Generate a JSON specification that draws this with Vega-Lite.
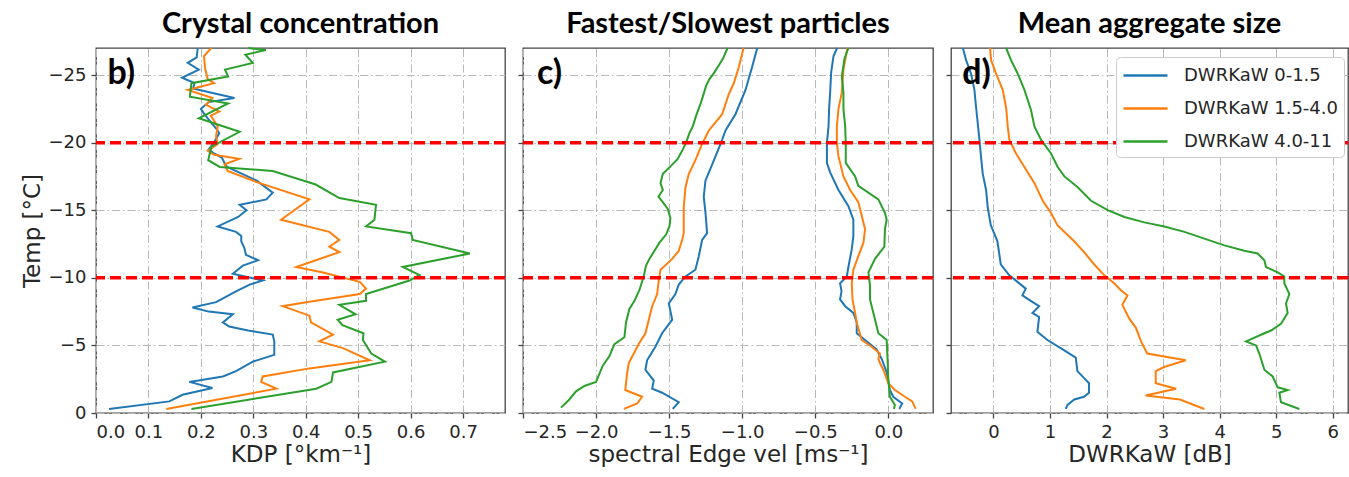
{
  "$schema": "https://vega.github.io/schema/vega-lite/v6.json",
  "padding": {"left": 20, "top": 9, "right": 0, "bottom": 0},
  "bounds": "flush",
  "spacing": 18,
  "config": {
    "font": "DejaVu Sans",
    "view": {"stroke": "#444444", "strokeWidth": 1.3},
    "axis": {"labelFont": "DejaVu Sans", "labelFontSize": 18, "labelColor": "#262626", "titleFont": "DejaVu Sans", "titleFontSize": 23, "titleFontWeight": "normal", "titleColor": "#262626", "domain": false, "tickColor": "#444444", "tickSize": 5, "tickWidth": 1.3, "grid": true, "gridColor": "#b8b8b8", "gridDash": [8, 3, 1.5, 3], "gridWidth": 1},
    "axisX": {"labelPadding": 5, "titlePadding": 2},
    "axisY": {"labelPadding": 5},
    "title": {"font": "Lato", "fontSize": 29, "fontWeight": "bold", "color": "black", "anchor": "middle", "baseline": "alphabetic", "offset": 5}
  },
  "resolve": {"legend": {"color": "independent"}},
  "datasets": {
    "d": [
      {"p":"b","s":"DWRKaW 0-1.5","T":-27.0,"v":0.194},{"p":"b","s":"DWRKaW 0-1.5","T":-26.3,"v":0.192},{"p":"b","s":"DWRKaW 0-1.5","T":-25.9,"v":0.175},{"p":"b","s":"DWRKaW 0-1.5","T":-25.4,"v":0.196},{"p":"b","s":"DWRKaW 0-1.5","T":-24.8,"v":0.164},{"p":"b","s":"DWRKaW 0-1.5","T":-24.4,"v":0.188},{"p":"b","s":"DWRKaW 0-1.5","T":-24.0,"v":0.185},{"p":"b","s":"DWRKaW 0-1.5","T":-23.3,"v":0.264},{"p":"b","s":"DWRKaW 0-1.5","T":-23.0,"v":0.215},{"p":"b","s":"DWRKaW 0-1.5","T":-22.5,"v":0.2},{"p":"b","s":"DWRKaW 0-1.5","T":-22.2,"v":0.205},{"p":"b","s":"DWRKaW 0-1.5","T":-21.7,"v":0.215},{"p":"b","s":"DWRKaW 0-1.5","T":-21.0,"v":0.23},{"p":"b","s":"DWRKaW 0-1.5","T":-20.7,"v":0.235},{"p":"b","s":"DWRKaW 0-1.5","T":-20.0,"v":0.225},{"p":"b","s":"DWRKaW 0-1.5","T":-19.5,"v":0.215},{"p":"b","s":"DWRKaW 0-1.5","T":-19.2,"v":0.225},{"p":"b","s":"DWRKaW 0-1.5","T":-18.9,"v":0.24},{"p":"b","s":"DWRKaW 0-1.5","T":-18.5,"v":0.245},{"p":"b","s":"DWRKaW 0-1.5","T":-18.2,"v":0.25},{"p":"b","s":"DWRKaW 0-1.5","T":-17.2,"v":0.306},{"p":"b","s":"DWRKaW 0-1.5","T":-16.3,"v":0.337},{"p":"b","s":"DWRKaW 0-1.5","T":-15.8,"v":0.325},{"p":"b","s":"DWRKaW 0-1.5","T":-15.4,"v":0.274},{"p":"b","s":"DWRKaW 0-1.5","T":-15.0,"v":0.287},{"p":"b","s":"DWRKaW 0-1.5","T":-14.5,"v":0.271},{"p":"b","s":"DWRKaW 0-1.5","T":-13.8,"v":0.232},{"p":"b","s":"DWRKaW 0-1.5","T":-13.4,"v":0.267},{"p":"b","s":"DWRKaW 0-1.5","T":-13.1,"v":0.277},{"p":"b","s":"DWRKaW 0-1.5","T":-12.7,"v":0.277},{"p":"b","s":"DWRKaW 0-1.5","T":-12.2,"v":0.283},{"p":"b","s":"DWRKaW 0-1.5","T":-11.7,"v":0.286},{"p":"b","s":"DWRKaW 0-1.5","T":-11.3,"v":0.309},{"p":"b","s":"DWRKaW 0-1.5","T":-10.9,"v":0.28},{"p":"b","s":"DWRKaW 0-1.5","T":-10.3,"v":0.261},{"p":"b","s":"DWRKaW 0-1.5","T":-9.8,"v":0.318},{"p":"b","s":"DWRKaW 0-1.5","T":-9.5,"v":0.293},{"p":"b","s":"DWRKaW 0-1.5","T":-9.0,"v":0.267},{"p":"b","s":"DWRKaW 0-1.5","T":-8.2,"v":0.229},{"p":"b","s":"DWRKaW 0-1.5","T":-7.8,"v":0.184},{"p":"b","s":"DWRKaW 0-1.5","T":-7.5,"v":0.215},{"p":"b","s":"DWRKaW 0-1.5","T":-7.3,"v":0.261},{"p":"b","s":"DWRKaW 0-1.5","T":-6.7,"v":0.242},{"p":"b","s":"DWRKaW 0-1.5","T":-6.4,"v":0.254},{"p":"b","s":"DWRKaW 0-1.5","T":-6.1,"v":0.29},{"p":"b","s":"DWRKaW 0-1.5","T":-5.8,"v":0.337},{"p":"b","s":"DWRKaW 0-1.5","T":-5.3,"v":0.34},{"p":"b","s":"DWRKaW 0-1.5","T":-4.3,"v":0.34},{"p":"b","s":"DWRKaW 0-1.5","T":-3.8,"v":0.299},{"p":"b","s":"DWRKaW 0-1.5","T":-3.1,"v":0.267},{"p":"b","s":"DWRKaW 0-1.5","T":-2.7,"v":0.242},{"p":"b","s":"DWRKaW 0-1.5","T":-2.3,"v":0.178},{"p":"b","s":"DWRKaW 0-1.5","T":-1.85,"v":0.222},{"p":"b","s":"DWRKaW 0-1.5","T":-1.35,"v":0.165},{"p":"b","s":"DWRKaW 0-1.5","T":-0.86,"v":0.14},{"p":"b","s":"DWRKaW 0-1.5","T":-0.3,"v":0.025},
      {"p":"b","s":"DWRKaW 1.5-4.0","T":-27.0,"v":0.22},{"p":"b","s":"DWRKaW 1.5-4.0","T":-26.4,"v":0.206},{"p":"b","s":"DWRKaW 1.5-4.0","T":-25.5,"v":0.208},{"p":"b","s":"DWRKaW 1.5-4.0","T":-24.7,"v":0.213},{"p":"b","s":"DWRKaW 1.5-4.0","T":-24.4,"v":0.225},{"p":"b","s":"DWRKaW 1.5-4.0","T":-23.9,"v":0.175},{"p":"b","s":"DWRKaW 1.5-4.0","T":-23.3,"v":0.222},{"p":"b","s":"DWRKaW 1.5-4.0","T":-22.8,"v":0.21},{"p":"b","s":"DWRKaW 1.5-4.0","T":-22.3,"v":0.235},{"p":"b","s":"DWRKaW 1.5-4.0","T":-22.0,"v":0.219},{"p":"b","s":"DWRKaW 1.5-4.0","T":-21.2,"v":0.232},{"p":"b","s":"DWRKaW 1.5-4.0","T":-20.5,"v":0.229},{"p":"b","s":"DWRKaW 1.5-4.0","T":-19.9,"v":0.232},{"p":"b","s":"DWRKaW 1.5-4.0","T":-19.4,"v":0.213},{"p":"b","s":"DWRKaW 1.5-4.0","T":-19.1,"v":0.225},{"p":"b","s":"DWRKaW 1.5-4.0","T":-18.8,"v":0.273},{"p":"b","s":"DWRKaW 1.5-4.0","T":-18.4,"v":0.245},{"p":"b","s":"DWRKaW 1.5-4.0","T":-17.9,"v":0.251},{"p":"b","s":"DWRKaW 1.5-4.0","T":-17.1,"v":0.305},{"p":"b","s":"DWRKaW 1.5-4.0","T":-15.8,"v":0.407},{"p":"b","s":"DWRKaW 1.5-4.0","T":-14.3,"v":0.353},{"p":"b","s":"DWRKaW 1.5-4.0","T":-13.4,"v":0.445},{"p":"b","s":"DWRKaW 1.5-4.0","T":-12.8,"v":0.464},{"p":"b","s":"DWRKaW 1.5-4.0","T":-12.3,"v":0.445},{"p":"b","s":"DWRKaW 1.5-4.0","T":-11.9,"v":0.464},{"p":"b","s":"DWRKaW 1.5-4.0","T":-10.8,"v":0.382},{"p":"b","s":"DWRKaW 1.5-4.0","T":-10.4,"v":0.433},{"p":"b","s":"DWRKaW 1.5-4.0","T":-9.7,"v":0.503},{"p":"b","s":"DWRKaW 1.5-4.0","T":-9.2,"v":0.515},{"p":"b","s":"DWRKaW 1.5-4.0","T":-8.8,"v":0.503},{"p":"b","s":"DWRKaW 1.5-4.0","T":-8.2,"v":0.401},{"p":"b","s":"DWRKaW 1.5-4.0","T":-7.9,"v":0.356},{"p":"b","s":"DWRKaW 1.5-4.0","T":-7.2,"v":0.407},{"p":"b","s":"DWRKaW 1.5-4.0","T":-6.7,"v":0.41},{"p":"b","s":"DWRKaW 1.5-4.0","T":-5.8,"v":0.452},{"p":"b","s":"DWRKaW 1.5-4.0","T":-5.3,"v":0.426},{"p":"b","s":"DWRKaW 1.5-4.0","T":-4.8,"v":0.471},{"p":"b","s":"DWRKaW 1.5-4.0","T":-3.9,"v":0.522},{"p":"b","s":"DWRKaW 1.5-4.0","T":-3.3,"v":0.407},{"p":"b","s":"DWRKaW 1.5-4.0","T":-2.7,"v":0.318},{"p":"b","s":"DWRKaW 1.5-4.0","T":-2.3,"v":0.315},{"p":"b","s":"DWRKaW 1.5-4.0","T":-1.8,"v":0.344},{"p":"b","s":"DWRKaW 1.5-4.0","T":-0.3,"v":0.134},
      {"p":"b","s":"DWRKaW 4.0-11","T":-27.0,"v":0.29},{"p":"b","s":"DWRKaW 4.0-11","T":-26.85,"v":0.324},{"p":"b","s":"DWRKaW 4.0-11","T":-26.5,"v":0.285},{"p":"b","s":"DWRKaW 4.0-11","T":-25.9,"v":0.299},{"p":"b","s":"DWRKaW 4.0-11","T":-25.4,"v":0.246},{"p":"b","s":"DWRKaW 4.0-11","T":-24.9,"v":0.252},{"p":"b","s":"DWRKaW 4.0-11","T":-24.4,"v":0.182},{"p":"b","s":"DWRKaW 4.0-11","T":-23.4,"v":0.179},{"p":"b","s":"DWRKaW 4.0-11","T":-22.9,"v":0.252},{"p":"b","s":"DWRKaW 4.0-11","T":-21.8,"v":0.196},{"p":"b","s":"DWRKaW 4.0-11","T":-20.8,"v":0.274},{"p":"b","s":"DWRKaW 4.0-11","T":-19.7,"v":0.22},{"p":"b","s":"DWRKaW 4.0-11","T":-18.7,"v":0.214},{"p":"b","s":"DWRKaW 4.0-11","T":-18.2,"v":0.236},{"p":"b","s":"DWRKaW 4.0-11","T":-17.9,"v":0.337},{"p":"b","s":"DWRKaW 4.0-11","T":-16.9,"v":0.419},{"p":"b","s":"DWRKaW 4.0-11","T":-15.9,"v":0.464},{"p":"b","s":"DWRKaW 4.0-11","T":-15.4,"v":0.534},{"p":"b","s":"DWRKaW 4.0-11","T":-14.3,"v":0.531},{"p":"b","s":"DWRKaW 4.0-11","T":-13.8,"v":0.515},{"p":"b","s":"DWRKaW 4.0-11","T":-13.3,"v":0.601},{"p":"b","s":"DWRKaW 4.0-11","T":-12.8,"v":0.604},{"p":"b","s":"DWRKaW 4.0-11","T":-11.8,"v":0.713},{"p":"b","s":"DWRKaW 4.0-11","T":-10.8,"v":0.585},{"p":"b","s":"DWRKaW 4.0-11","T":-10.2,"v":0.617},{"p":"b","s":"DWRKaW 4.0-11","T":-9.8,"v":0.598},{"p":"b","s":"DWRKaW 4.0-11","T":-8.8,"v":0.515},{"p":"b","s":"DWRKaW 4.0-11","T":-8.3,"v":0.515},{"p":"b","s":"DWRKaW 4.0-11","T":-8.0,"v":0.464},{"p":"b","s":"DWRKaW 4.0-11","T":-7.3,"v":0.495},{"p":"b","s":"DWRKaW 4.0-11","T":-6.9,"v":0.461},{"p":"b","s":"DWRKaW 4.0-11","T":-6.5,"v":0.47},{"p":"b","s":"DWRKaW 4.0-11","T":-5.9,"v":0.51},{"p":"b","s":"DWRKaW 4.0-11","T":-5.4,"v":0.509},{"p":"b","s":"DWRKaW 4.0-11","T":-4.4,"v":0.525},{"p":"b","s":"DWRKaW 4.0-11","T":-3.8,"v":0.551},{"p":"b","s":"DWRKaW 4.0-11","T":-3.0,"v":0.452},{"p":"b","s":"DWRKaW 4.0-11","T":-2.3,"v":0.449},{"p":"b","s":"DWRKaW 4.0-11","T":-1.8,"v":0.42},{"p":"b","s":"DWRKaW 4.0-11","T":-0.3,"v":0.182},

      {"p":"c","e":"fast","s":"DWRKaW 0-1.5","T":-27.0,"v":-0.897},{"p":"c","e":"fast","s":"DWRKaW 0-1.5","T":-25.6,"v":-0.932},{"p":"c","e":"fast","s":"DWRKaW 0-1.5","T":-23.9,"v":-0.977},{"p":"c","e":"fast","s":"DWRKaW 0-1.5","T":-22.1,"v":-1.046},{"p":"c","e":"fast","s":"DWRKaW 0-1.5","T":-20.9,"v":-1.114},{"p":"c","e":"fast","s":"DWRKaW 0-1.5","T":-19.9,"v":-1.148},{"p":"c","e":"fast","s":"DWRKaW 0-1.5","T":-18.4,"v":-1.205},{"p":"c","e":"fast","s":"DWRKaW 0-1.5","T":-17.2,"v":-1.251},{"p":"c","e":"fast","s":"DWRKaW 0-1.5","T":-16.0,"v":-1.263},{"p":"c","e":"fast","s":"DWRKaW 0-1.5","T":-14.8,"v":-1.251},{"p":"c","e":"fast","s":"DWRKaW 0-1.5","T":-13.3,"v":-1.24},{"p":"c","e":"fast","s":"DWRKaW 0-1.5","T":-12.8,"v":-1.274},{"p":"c","e":"fast","s":"DWRKaW 0-1.5","T":-11.6,"v":-1.297},{"p":"c","e":"fast","s":"DWRKaW 0-1.5","T":-10.6,"v":-1.32},{"p":"c","e":"fast","s":"DWRKaW 0-1.5","T":-10.1,"v":-1.388},{"p":"c","e":"fast","s":"DWRKaW 0-1.5","T":-9.5,"v":-1.434},{"p":"c","e":"fast","s":"DWRKaW 0-1.5","T":-8.8,"v":-1.457},{"p":"c","e":"fast","s":"DWRKaW 0-1.5","T":-8.1,"v":-1.502},{"p":"c","e":"fast","s":"DWRKaW 0-1.5","T":-6.9,"v":-1.479},{"p":"c","e":"fast","s":"DWRKaW 0-1.5","T":-5.9,"v":-1.548},{"p":"c","e":"fast","s":"DWRKaW 0-1.5","T":-4.9,"v":-1.594},{"p":"c","e":"fast","s":"DWRKaW 0-1.5","T":-3.9,"v":-1.651},{"p":"c","e":"fast","s":"DWRKaW 0-1.5","T":-3.2,"v":-1.662},{"p":"c","e":"fast","s":"DWRKaW 0-1.5","T":-2.4,"v":-1.605},{"p":"c","e":"fast","s":"DWRKaW 0-1.5","T":-1.8,"v":-1.616},{"p":"c","e":"fast","s":"DWRKaW 0-1.5","T":-1.5,"v":-1.548},{"p":"c","e":"fast","s":"DWRKaW 0-1.5","T":-0.8,"v":-1.434},{"p":"c","e":"fast","s":"DWRKaW 0-1.5","T":-0.3,"v":-1.475},
      {"p":"c","e":"fast","s":"DWRKaW 1.5-4.0","T":-27.0,"v":-0.99},{"p":"c","e":"fast","s":"DWRKaW 1.5-4.0","T":-25.6,"v":-1.023},{"p":"c","e":"fast","s":"DWRKaW 1.5-4.0","T":-24.4,"v":-1.057},{"p":"c","e":"fast","s":"DWRKaW 1.5-4.0","T":-23.6,"v":-1.091},{"p":"c","e":"fast","s":"DWRKaW 1.5-4.0","T":-22.1,"v":-1.137},{"p":"c","e":"fast","s":"DWRKaW 1.5-4.0","T":-20.9,"v":-1.228},{"p":"c","e":"fast","s":"DWRKaW 1.5-4.0","T":-19.9,"v":-1.274},{"p":"c","e":"fast","s":"DWRKaW 1.5-4.0","T":-18.7,"v":-1.32},{"p":"c","e":"fast","s":"DWRKaW 1.5-4.0","T":-17.7,"v":-1.365},{"p":"c","e":"fast","s":"DWRKaW 1.5-4.0","T":-16.7,"v":-1.388},{"p":"c","e":"fast","s":"DWRKaW 1.5-4.0","T":-15.2,"v":-1.4},{"p":"c","e":"fast","s":"DWRKaW 1.5-4.0","T":-13.3,"v":-1.4},{"p":"c","e":"fast","s":"DWRKaW 1.5-4.0","T":-12.8,"v":-1.411},{"p":"c","e":"fast","s":"DWRKaW 1.5-4.0","T":-12.0,"v":-1.434},{"p":"c","e":"fast","s":"DWRKaW 1.5-4.0","T":-11.4,"v":-1.479},{"p":"c","e":"fast","s":"DWRKaW 1.5-4.0","T":-10.6,"v":-1.559},{"p":"c","e":"fast","s":"DWRKaW 1.5-4.0","T":-9.8,"v":-1.571},{"p":"c","e":"fast","s":"DWRKaW 1.5-4.0","T":-8.8,"v":-1.582},{"p":"c","e":"fast","s":"DWRKaW 1.5-4.0","T":-7.9,"v":-1.616},{"p":"c","e":"fast","s":"DWRKaW 1.5-4.0","T":-6.9,"v":-1.639},{"p":"c","e":"fast","s":"DWRKaW 1.5-4.0","T":-5.9,"v":-1.662},{"p":"c","e":"fast","s":"DWRKaW 1.5-4.0","T":-5.1,"v":-1.708},{"p":"c","e":"fast","s":"DWRKaW 1.5-4.0","T":-4.4,"v":-1.742},{"p":"c","e":"fast","s":"DWRKaW 1.5-4.0","T":-3.7,"v":-1.776},{"p":"c","e":"fast","s":"DWRKaW 1.5-4.0","T":-2.9,"v":-1.788},{"p":"c","e":"fast","s":"DWRKaW 1.5-4.0","T":-1.7,"v":-1.8},{"p":"c","e":"fast","s":"DWRKaW 1.5-4.0","T":-1.2,"v":-1.685},{"p":"c","e":"fast","s":"DWRKaW 1.5-4.0","T":-0.7,"v":-1.719},{"p":"c","e":"fast","s":"DWRKaW 1.5-4.0","T":-0.3,"v":-1.81},
      {"p":"c","e":"fast","s":"DWRKaW 4.0-11","T":-27.0,"v":-1.1},{"p":"c","e":"fast","s":"DWRKaW 4.0-11","T":-26.2,"v":-1.132},{"p":"c","e":"fast","s":"DWRKaW 4.0-11","T":-25.2,"v":-1.19},{"p":"c","e":"fast","s":"DWRKaW 4.0-11","T":-24.7,"v":-1.224},{"p":"c","e":"fast","s":"DWRKaW 4.0-11","T":-24.2,"v":-1.247},{"p":"c","e":"fast","s":"DWRKaW 4.0-11","T":-23.0,"v":-1.281},{"p":"c","e":"fast","s":"DWRKaW 4.0-11","T":-22.0,"v":-1.315},{"p":"c","e":"fast","s":"DWRKaW 4.0-11","T":-21.2,"v":-1.338},{"p":"c","e":"fast","s":"DWRKaW 4.0-11","T":-20.7,"v":-1.361},{"p":"c","e":"fast","s":"DWRKaW 4.0-11","T":-20.0,"v":-1.384},{"p":"c","e":"fast","s":"DWRKaW 4.0-11","T":-19.5,"v":-1.406},{"p":"c","e":"fast","s":"DWRKaW 4.0-11","T":-18.8,"v":-1.441},{"p":"c","e":"fast","s":"DWRKaW 4.0-11","T":-18.3,"v":-1.486},{"p":"c","e":"fast","s":"DWRKaW 4.0-11","T":-17.7,"v":-1.543},{"p":"c","e":"fast","s":"DWRKaW 4.0-11","T":-17.0,"v":-1.559},{"p":"c","e":"fast","s":"DWRKaW 4.0-11","T":-16.5,"v":-1.543},{"p":"c","e":"fast","s":"DWRKaW 4.0-11","T":-16.0,"v":-1.573},{"p":"c","e":"fast","s":"DWRKaW 4.0-11","T":-15.6,"v":-1.543},{"p":"c","e":"fast","s":"DWRKaW 4.0-11","T":-15.1,"v":-1.509},{"p":"c","e":"fast","s":"DWRKaW 4.0-11","T":-14.4,"v":-1.491},{"p":"c","e":"fast","s":"DWRKaW 4.0-11","T":-13.8,"v":-1.498},{"p":"c","e":"fast","s":"DWRKaW 4.0-11","T":-13.2,"v":-1.521},{"p":"c","e":"fast","s":"DWRKaW 4.0-11","T":-12.6,"v":-1.566},{"p":"c","e":"fast","s":"DWRKaW 4.0-11","T":-12.0,"v":-1.6},{"p":"c","e":"fast","s":"DWRKaW 4.0-11","T":-11.4,"v":-1.635},{"p":"c","e":"fast","s":"DWRKaW 4.0-11","T":-10.9,"v":-1.658},{"p":"c","e":"fast","s":"DWRKaW 4.0-11","T":-10.1,"v":-1.674},{"p":"c","e":"fast","s":"DWRKaW 4.0-11","T":-9.1,"v":-1.703},{"p":"c","e":"fast","s":"DWRKaW 4.0-11","T":-8.3,"v":-1.737},{"p":"c","e":"fast","s":"DWRKaW 4.0-11","T":-7.7,"v":-1.772},{"p":"c","e":"fast","s":"DWRKaW 4.0-11","T":-6.7,"v":-1.795},{"p":"c","e":"fast","s":"DWRKaW 4.0-11","T":-5.6,"v":-1.806},{"p":"c","e":"fast","s":"DWRKaW 4.0-11","T":-5.1,"v":-1.874},{"p":"c","e":"fast","s":"DWRKaW 4.0-11","T":-4.2,"v":-1.909},{"p":"c","e":"fast","s":"DWRKaW 4.0-11","T":-3.5,"v":-1.954},{"p":"c","e":"fast","s":"DWRKaW 4.0-11","T":-2.3,"v":-2.0},{"p":"c","e":"fast","s":"DWRKaW 4.0-11","T":-2.0,"v":-2.08},{"p":"c","e":"fast","s":"DWRKaW 4.0-11","T":-1.6,"v":-2.137},{"p":"c","e":"fast","s":"DWRKaW 4.0-11","T":-1.0,"v":-2.183},{"p":"c","e":"fast","s":"DWRKaW 4.0-11","T":-0.4,"v":-2.24},
      {"p":"c","e":"slow","s":"DWRKaW 0-1.5","T":-27.0,"v":-0.35},{"p":"c","e":"slow","s":"DWRKaW 0-1.5","T":-26.4,"v":-0.375},{"p":"c","e":"slow","s":"DWRKaW 0-1.5","T":-25.2,"v":-0.391},{"p":"c","e":"slow","s":"DWRKaW 0-1.5","T":-23.7,"v":-0.398},{"p":"c","e":"slow","s":"DWRKaW 0-1.5","T":-22.5,"v":-0.405},{"p":"c","e":"slow","s":"DWRKaW 0-1.5","T":-21.2,"v":-0.409},{"p":"c","e":"slow","s":"DWRKaW 0-1.5","T":-20.0,"v":-0.42},{"p":"c","e":"slow","s":"DWRKaW 0-1.5","T":-18.5,"v":-0.42},{"p":"c","e":"slow","s":"DWRKaW 0-1.5","T":-17.8,"v":-0.398},{"p":"c","e":"slow","s":"DWRKaW 0-1.5","T":-16.5,"v":-0.341},{"p":"c","e":"slow","s":"DWRKaW 0-1.5","T":-15.3,"v":-0.273},{"p":"c","e":"slow","s":"DWRKaW 0-1.5","T":-14.3,"v":-0.239},{"p":"c","e":"slow","s":"DWRKaW 0-1.5","T":-13.1,"v":-0.239},{"p":"c","e":"slow","s":"DWRKaW 0-1.5","T":-12.1,"v":-0.25},{"p":"c","e":"slow","s":"DWRKaW 0-1.5","T":-11.1,"v":-0.268},{"p":"c","e":"slow","s":"DWRKaW 0-1.5","T":-10.1,"v":-0.284},{"p":"c","e":"slow","s":"DWRKaW 0-1.5","T":-9.6,"v":-0.33},{"p":"c","e":"slow","s":"DWRKaW 0-1.5","T":-9.0,"v":-0.32},{"p":"c","e":"slow","s":"DWRKaW 0-1.5","T":-8.4,"v":-0.33},{"p":"c","e":"slow","s":"DWRKaW 0-1.5","T":-7.9,"v":-0.295},{"p":"c","e":"slow","s":"DWRKaW 0-1.5","T":-7.4,"v":-0.239},{"p":"c","e":"slow","s":"DWRKaW 0-1.5","T":-6.7,"v":-0.216},{"p":"c","e":"slow","s":"DWRKaW 0-1.5","T":-5.9,"v":-0.216},{"p":"c","e":"slow","s":"DWRKaW 0-1.5","T":-5.2,"v":-0.136},{"p":"c","e":"slow","s":"DWRKaW 0-1.5","T":-4.7,"v":-0.08},{"p":"c","e":"slow","s":"DWRKaW 0-1.5","T":-4.0,"v":-0.045},{"p":"c","e":"slow","s":"DWRKaW 0-1.5","T":-3.0,"v":-0.011},{"p":"c","e":"slow","s":"DWRKaW 0-1.5","T":-1.7,"v":0.011},{"p":"c","e":"slow","s":"DWRKaW 0-1.5","T":-1.2,"v":0.034},{"p":"c","e":"slow","s":"DWRKaW 0-1.5","T":-0.7,"v":0.095},{"p":"c","e":"slow","s":"DWRKaW 0-1.5","T":-0.3,"v":0.075},
      {"p":"c","e":"slow","s":"DWRKaW 1.5-4.0","T":-27.0,"v":-0.28},{"p":"c","e":"slow","s":"DWRKaW 1.5-4.0","T":-25.4,"v":-0.307},{"p":"c","e":"slow","s":"DWRKaW 1.5-4.0","T":-23.7,"v":-0.318},{"p":"c","e":"slow","s":"DWRKaW 1.5-4.0","T":-22.5,"v":-0.341},{"p":"c","e":"slow","s":"DWRKaW 1.5-4.0","T":-21.2,"v":-0.352},{"p":"c","e":"slow","s":"DWRKaW 1.5-4.0","T":-20.0,"v":-0.352},{"p":"c","e":"slow","s":"DWRKaW 1.5-4.0","T":-19.0,"v":-0.341},{"p":"c","e":"slow","s":"DWRKaW 1.5-4.0","T":-17.5,"v":-0.307},{"p":"c","e":"slow","s":"DWRKaW 1.5-4.0","T":-16.5,"v":-0.261},{"p":"c","e":"slow","s":"DWRKaW 1.5-4.0","T":-15.6,"v":-0.205},{"p":"c","e":"slow","s":"DWRKaW 1.5-4.0","T":-13.6,"v":-0.159},{"p":"c","e":"slow","s":"DWRKaW 1.5-4.0","T":-12.6,"v":-0.17},{"p":"c","e":"slow","s":"DWRKaW 1.5-4.0","T":-11.6,"v":-0.205},{"p":"c","e":"slow","s":"DWRKaW 1.5-4.0","T":-10.6,"v":-0.239},{"p":"c","e":"slow","s":"DWRKaW 1.5-4.0","T":-9.6,"v":-0.25},{"p":"c","e":"slow","s":"DWRKaW 1.5-4.0","T":-8.4,"v":-0.245},{"p":"c","e":"slow","s":"DWRKaW 1.5-4.0","T":-7.4,"v":-0.227},{"p":"c","e":"slow","s":"DWRKaW 1.5-4.0","T":-6.7,"v":-0.216},{"p":"c","e":"slow","s":"DWRKaW 1.5-4.0","T":-5.4,"v":-0.182},{"p":"c","e":"slow","s":"DWRKaW 1.5-4.0","T":-4.9,"v":-0.114},{"p":"c","e":"slow","s":"DWRKaW 1.5-4.0","T":-4.4,"v":-0.057},{"p":"c","e":"slow","s":"DWRKaW 1.5-4.0","T":-4.0,"v":-0.068},{"p":"c","e":"slow","s":"DWRKaW 1.5-4.0","T":-3.7,"v":-0.057},{"p":"c","e":"slow","s":"DWRKaW 1.5-4.0","T":-3.2,"v":-0.034},{"p":"c","e":"slow","s":"DWRKaW 1.5-4.0","T":-2.2,"v":0.0},{"p":"c","e":"slow","s":"DWRKaW 1.5-4.0","T":-1.7,"v":0.045},{"p":"c","e":"slow","s":"DWRKaW 1.5-4.0","T":-1.2,"v":0.114},{"p":"c","e":"slow","s":"DWRKaW 1.5-4.0","T":-0.86,"v":0.164},{"p":"c","e":"slow","s":"DWRKaW 1.5-4.0","T":-0.3,"v":0.187},
      {"p":"c","e":"slow","s":"DWRKaW 4.0-11","T":-27.0,"v":-0.273},{"p":"c","e":"slow","s":"DWRKaW 4.0-11","T":-26.2,"v":-0.3},{"p":"c","e":"slow","s":"DWRKaW 4.0-11","T":-24.9,"v":-0.318},{"p":"c","e":"slow","s":"DWRKaW 4.0-11","T":-23.7,"v":-0.307},{"p":"c","e":"slow","s":"DWRKaW 4.0-11","T":-22.5,"v":-0.307},{"p":"c","e":"slow","s":"DWRKaW 4.0-11","T":-21.2,"v":-0.295},{"p":"c","e":"slow","s":"DWRKaW 4.0-11","T":-20.0,"v":-0.291},{"p":"c","e":"slow","s":"DWRKaW 4.0-11","T":-18.5,"v":-0.291},{"p":"c","e":"slow","s":"DWRKaW 4.0-11","T":-17.5,"v":-0.227},{"p":"c","e":"slow","s":"DWRKaW 4.0-11","T":-16.8,"v":-0.205},{"p":"c","e":"slow","s":"DWRKaW 4.0-11","T":-15.8,"v":-0.068},{"p":"c","e":"slow","s":"DWRKaW 4.0-11","T":-14.8,"v":-0.023},{"p":"c","e":"slow","s":"DWRKaW 4.0-11","T":-14.3,"v":-0.011},{"p":"c","e":"slow","s":"DWRKaW 4.0-11","T":-13.6,"v":-0.023},{"p":"c","e":"slow","s":"DWRKaW 4.0-11","T":-12.3,"v":-0.027},{"p":"c","e":"slow","s":"DWRKaW 4.0-11","T":-11.4,"v":-0.091},{"p":"c","e":"slow","s":"DWRKaW 4.0-11","T":-10.4,"v":-0.136},{"p":"c","e":"slow","s":"DWRKaW 4.0-11","T":-9.4,"v":-0.125},{"p":"c","e":"slow","s":"DWRKaW 4.0-11","T":-8.4,"v":-0.125},{"p":"c","e":"slow","s":"DWRKaW 4.0-11","T":-7.4,"v":-0.102},{"p":"c","e":"slow","s":"DWRKaW 4.0-11","T":-5.9,"v":-0.068},{"p":"c","e":"slow","s":"DWRKaW 4.0-11","T":-5.4,"v":-0.011},{"p":"c","e":"slow","s":"DWRKaW 4.0-11","T":-4.0,"v":-0.005},{"p":"c","e":"slow","s":"DWRKaW 4.0-11","T":-2.5,"v":0.0},{"p":"c","e":"slow","s":"DWRKaW 4.0-11","T":-1.2,"v":0.011},{"p":"c","e":"slow","s":"DWRKaW 4.0-11","T":-0.6,"v":0.045},{"p":"c","e":"slow","s":"DWRKaW 4.0-11","T":-0.3,"v":0.039},

      {"p":"d","s":"DWRKaW 0-1.5","T":-27.0,"v":-0.54},{"p":"d","s":"DWRKaW 0-1.5","T":-26.1,"v":-0.483},{"p":"d","s":"DWRKaW 0-1.5","T":-25.1,"v":-0.395},{"p":"d","s":"DWRKaW 0-1.5","T":-23.9,"v":-0.336},{"p":"d","s":"DWRKaW 0-1.5","T":-22.6,"v":-0.306},{"p":"d","s":"DWRKaW 0-1.5","T":-21.4,"v":-0.277},{"p":"d","s":"DWRKaW 0-1.5","T":-20.2,"v":-0.247},{"p":"d","s":"DWRKaW 0-1.5","T":-18.9,"v":-0.218},{"p":"d","s":"DWRKaW 0-1.5","T":-17.7,"v":-0.189},{"p":"d","s":"DWRKaW 0-1.5","T":-16.5,"v":-0.13},{"p":"d","s":"DWRKaW 0-1.5","T":-15.2,"v":-0.1},{"p":"d","s":"DWRKaW 0-1.5","T":-13.9,"v":-0.047},{"p":"d","s":"DWRKaW 0-1.5","T":-12.7,"v":0.071},{"p":"d","s":"DWRKaW 0-1.5","T":-11.0,"v":0.13},{"p":"d","s":"DWRKaW 0-1.5","T":-10.2,"v":0.277},{"p":"d","s":"DWRKaW 0-1.5","T":-9.7,"v":0.425},{"p":"d","s":"DWRKaW 0-1.5","T":-9.2,"v":0.572},{"p":"d","s":"DWRKaW 0-1.5","T":-8.7,"v":0.513},{"p":"d","s":"DWRKaW 0-1.5","T":-8.3,"v":0.66},{"p":"d","s":"DWRKaW 0-1.5","T":-7.9,"v":0.808},{"p":"d","s":"DWRKaW 0-1.5","T":-7.4,"v":0.69},{"p":"d","s":"DWRKaW 0-1.5","T":-7.1,"v":0.808},{"p":"d","s":"DWRKaW 0-1.5","T":-6.0,"v":0.778},{"p":"d","s":"DWRKaW 0-1.5","T":-5.4,"v":0.955},{"p":"d","s":"DWRKaW 0-1.5","T":-4.8,"v":1.19},{"p":"d","s":"DWRKaW 0-1.5","T":-4.1,"v":1.456},{"p":"d","s":"DWRKaW 0-1.5","T":-3.1,"v":1.485},{"p":"d","s":"DWRKaW 0-1.5","T":-2.6,"v":1.6},{"p":"d","s":"DWRKaW 0-1.5","T":-2.2,"v":1.69},{"p":"d","s":"DWRKaW 0-1.5","T":-1.5,"v":1.69},{"p":"d","s":"DWRKaW 0-1.5","T":-1.2,"v":1.6},{"p":"d","s":"DWRKaW 0-1.5","T":-1.0,"v":1.43},{"p":"d","s":"DWRKaW 0-1.5","T":-0.6,"v":1.31},{"p":"d","s":"DWRKaW 0-1.5","T":-0.3,"v":1.28},
      {"p":"d","s":"DWRKaW 1.5-4.0","T":-27.0,"v":-0.059},{"p":"d","s":"DWRKaW 1.5-4.0","T":-26.1,"v":-0.041},{"p":"d","s":"DWRKaW 1.5-4.0","T":-25.1,"v":0.047},{"p":"d","s":"DWRKaW 1.5-4.0","T":-23.9,"v":0.165},{"p":"d","s":"DWRKaW 1.5-4.0","T":-22.6,"v":0.224},{"p":"d","s":"DWRKaW 1.5-4.0","T":-21.2,"v":0.253},{"p":"d","s":"DWRKaW 1.5-4.0","T":-20.2,"v":0.283},{"p":"d","s":"DWRKaW 1.5-4.0","T":-19.2,"v":0.4},{"p":"d","s":"DWRKaW 1.5-4.0","T":-18.2,"v":0.548},{"p":"d","s":"DWRKaW 1.5-4.0","T":-17.0,"v":0.725},{"p":"d","s":"DWRKaW 1.5-4.0","T":-15.7,"v":0.872},{"p":"d","s":"DWRKaW 1.5-4.0","T":-14.8,"v":1.019},{"p":"d","s":"DWRKaW 1.5-4.0","T":-13.9,"v":1.132},{"p":"d","s":"DWRKaW 1.5-4.0","T":-12.7,"v":1.427},{"p":"d","s":"DWRKaW 1.5-4.0","T":-11.9,"v":1.604},{"p":"d","s":"DWRKaW 1.5-4.0","T":-11.0,"v":1.78},{"p":"d","s":"DWRKaW 1.5-4.0","T":-10.2,"v":1.957},{"p":"d","s":"DWRKaW 1.5-4.0","T":-9.6,"v":2.134},{"p":"d","s":"DWRKaW 1.5-4.0","T":-9.1,"v":2.25},{"p":"d","s":"DWRKaW 1.5-4.0","T":-8.7,"v":2.37},{"p":"d","s":"DWRKaW 1.5-4.0","T":-8.0,"v":2.28},{"p":"d","s":"DWRKaW 1.5-4.0","T":-7.0,"v":2.4},{"p":"d","s":"DWRKaW 1.5-4.0","T":-6.3,"v":2.52},{"p":"d","s":"DWRKaW 1.5-4.0","T":-5.3,"v":2.61},{"p":"d","s":"DWRKaW 1.5-4.0","T":-4.4,"v":2.72},{"p":"d","s":"DWRKaW 1.5-4.0","T":-3.9,"v":3.4},{"p":"d","s":"DWRKaW 1.5-4.0","T":-3.4,"v":3.02},{"p":"d","s":"DWRKaW 1.5-4.0","T":-3.1,"v":2.87},{"p":"d","s":"DWRKaW 1.5-4.0","T":-2.2,"v":2.87},{"p":"d","s":"DWRKaW 1.5-4.0","T":-1.8,"v":3.23},{"p":"d","s":"DWRKaW 1.5-4.0","T":-1.3,"v":2.69},{"p":"d","s":"DWRKaW 1.5-4.0","T":-1.0,"v":3.3},{"p":"d","s":"DWRKaW 1.5-4.0","T":-0.3,"v":3.73},
      {"p":"d","s":"DWRKaW 4.0-11","T":-27.0,"v":0.224},{"p":"d","s":"DWRKaW 4.0-11","T":-26.1,"v":0.312},{"p":"d","s":"DWRKaW 4.0-11","T":-25.1,"v":0.43},{"p":"d","s":"DWRKaW 4.0-11","T":-23.9,"v":0.548},{"p":"d","s":"DWRKaW 4.0-11","T":-22.4,"v":0.666},{"p":"d","s":"DWRKaW 4.0-11","T":-21.2,"v":0.725},{"p":"d","s":"DWRKaW 4.0-11","T":-20.2,"v":0.843},{"p":"d","s":"DWRKaW 4.0-11","T":-19.2,"v":1.019},{"p":"d","s":"DWRKaW 4.0-11","T":-18.2,"v":1.137},{"p":"d","s":"DWRKaW 4.0-11","T":-17.5,"v":1.255},{"p":"d","s":"DWRKaW 4.0-11","T":-16.7,"v":1.491},{"p":"d","s":"DWRKaW 4.0-11","T":-15.7,"v":1.727},{"p":"d","s":"DWRKaW 4.0-11","T":-15.0,"v":2.021},{"p":"d","s":"DWRKaW 4.0-11","T":-14.5,"v":2.316},{"p":"d","s":"DWRKaW 4.0-11","T":-14.1,"v":2.669},{"p":"d","s":"DWRKaW 4.0-11","T":-13.8,"v":3.023},{"p":"d","s":"DWRKaW 4.0-11","T":-13.4,"v":3.377},{"p":"d","s":"DWRKaW 4.0-11","T":-12.9,"v":3.73},{"p":"d","s":"DWRKaW 4.0-11","T":-12.4,"v":4.084},{"p":"d","s":"DWRKaW 4.0-11","T":-12.0,"v":4.437},{"p":"d","s":"DWRKaW 4.0-11","T":-11.8,"v":4.673},{"p":"d","s":"DWRKaW 4.0-11","T":-11.3,"v":4.791},{"p":"d","s":"DWRKaW 4.0-11","T":-10.8,"v":4.82},{"p":"d","s":"DWRKaW 4.0-11","T":-10.4,"v":5.027},{"p":"d","s":"DWRKaW 4.0-11","T":-10.1,"v":5.144},{"p":"d","s":"DWRKaW 4.0-11","T":-9.6,"v":5.144},{"p":"d","s":"DWRKaW 4.0-11","T":-8.8,"v":5.233},{"p":"d","s":"DWRKaW 4.0-11","T":-8.1,"v":5.174},{"p":"d","s":"DWRKaW 4.0-11","T":-7.4,"v":5.203},{"p":"d","s":"DWRKaW 4.0-11","T":-6.6,"v":5.085},{"p":"d","s":"DWRKaW 4.0-11","T":-6.1,"v":4.909},{"p":"d","s":"DWRKaW 4.0-11","T":-5.9,"v":4.791},{"p":"d","s":"DWRKaW 4.0-11","T":-5.3,"v":4.467},{"p":"d","s":"DWRKaW 4.0-11","T":-5.0,"v":4.644},{"p":"d","s":"DWRKaW 4.0-11","T":-4.4,"v":4.702},{"p":"d","s":"DWRKaW 4.0-11","T":-3.2,"v":4.791},{"p":"d","s":"DWRKaW 4.0-11","T":-2.7,"v":4.938},{"p":"d","s":"DWRKaW 4.0-11","T":-1.9,"v":5.027},{"p":"d","s":"DWRKaW 4.0-11","T":-1.7,"v":5.203},{"p":"d","s":"DWRKaW 4.0-11","T":-1.5,"v":5.056},{"p":"d","s":"DWRKaW 4.0-11","T":-0.8,"v":5.085},{"p":"d","s":"DWRKaW 4.0-11","T":-0.3,"v":5.41}
    ],
    "ref": [{"T": -20}, {"T": -10}]
  },
  "hconcat": [
    {
      "width": 409, "height": 365,
      "title": {"text": "Crystal concentration"},
      "layer": [
        {
          "data": {"name": "d"},
          "transform": [{"filter": "datum.p == 'b'"}],
          "mark": {"type": "line", "strokeWidth": 2},
          "encoding": {
            "x": {"field": "v", "type": "quantitative", "scale": {"domain": [0, 0.78], "nice": false, "zero": false}, "axis": {"values": [0, 0.1, 0.2, 0.3, 0.4, 0.5, 0.6, 0.7], "format": ".1f", "title": "KDP [°km⁻¹]"}},
            "y": {"field": "T", "type": "quantitative", "scale": {"domain": [-27, 0], "reverse": true, "nice": false, "zero": false}, "axis": {"values": [-25, -20, -15, -10, -5, 0], "format": "d", "title": "Temp [°C]"}},
            "color": {"field": "s", "type": "nominal", "scale": {"domain": ["DWRKaW 0-1.5", "DWRKaW 1.5-4.0", "DWRKaW 4.0-11"], "range": ["#1f77b4", "#ff7f0e", "#2ca02c"]}, "legend": null},
            "order": {"field": "T", "type": "quantitative"}
          }
        },
        {
          "data": {"name": "ref"},
          "mark": {"type": "rule", "color": "#ff0000", "strokeWidth": 3.5, "strokeDash": [11, 5]},
          "encoding": {"y": {"field": "T", "type": "quantitative"}}
        },
        {
          "data": {"values": [{"lab": "b)"}]},
          "mark": {"type": "text", "font": "Lato", "fontWeight": "bold", "fontSize": 34, "align": "left", "baseline": "alphabetic", "color": "black"},
          "encoding": {"text": {"field": "lab"}, "x": {"datum": 0.022}, "y": {"datum": -24.37}}
        }
      ]
    },
    {
      "width": 410, "height": 365,
      "title": {"text": "Fastest/Slowest particles"},
      "layer": [
        {
          "data": {"name": "d"},
          "transform": [{"filter": "datum.p == 'c'"}],
          "mark": {"type": "line", "strokeWidth": 2},
          "encoding": {
            "x": {"field": "v", "type": "quantitative", "scale": {"domain": [-2.5, 0.306], "nice": false, "zero": false}, "axis": {"values": [-2.5, -2, -1.5, -1, -0.5, 0], "format": ".1f", "title": "spectral Edge vel [ms⁻¹]"}},
            "y": {"field": "T", "type": "quantitative", "scale": {"domain": [-27, 0], "reverse": true, "nice": false, "zero": false}, "axis": {"values": [-25, -20, -15, -10, -5, 0], "labels": false, "title": null}},
            "color": {"field": "s", "type": "nominal", "scale": {"domain": ["DWRKaW 0-1.5", "DWRKaW 1.5-4.0", "DWRKaW 4.0-11"], "range": ["#1f77b4", "#ff7f0e", "#2ca02c"]}, "legend": null},
            "detail": {"field": "e", "type": "nominal"},
            "order": {"field": "T", "type": "quantitative"}
          }
        },
        {
          "data": {"name": "ref"},
          "mark": {"type": "rule", "color": "#ff0000", "strokeWidth": 3.5, "strokeDash": [11, 5]},
          "encoding": {"y": {"field": "T", "type": "quantitative"}}
        },
        {
          "data": {"values": [{"lab": "c)"}]},
          "mark": {"type": "text", "font": "Lato", "fontWeight": "bold", "fontSize": 34, "align": "left", "baseline": "alphabetic", "color": "black"},
          "encoding": {"text": {"field": "lab"}, "x": {"datum": -2.405}, "y": {"datum": -24.37}}
        }
      ]
    },
    {
      "width": 397, "height": 365,
      "title": {"text": "Mean aggregate size"},
      "layer": [
        {
          "data": {"name": "d"},
          "transform": [{"filter": "datum.p == 'd'"}],
          "mark": {"type": "line", "strokeWidth": 2},
          "encoding": {
            "x": {"field": "v", "type": "quantitative", "scale": {"domain": [-0.75, 6.27], "nice": false, "zero": false}, "axis": {"values": [0, 1, 2, 3, 4, 5, 6], "format": "d", "title": "DWRKaW [dB]"}},
            "y": {"field": "T", "type": "quantitative", "scale": {"domain": [-27, 0], "reverse": true, "nice": false, "zero": false}, "axis": {"values": [-25, -20, -15, -10, -5, 0], "labels": false, "title": null}},
            "color": {"field": "s", "type": "nominal", "scale": {"domain": ["DWRKaW 0-1.5", "DWRKaW 1.5-4.0", "DWRKaW 4.0-11"], "range": ["#1f77b4", "#ff7f0e", "#2ca02c"]},
              "legend": {"orient": "none", "legendX": 165, "legendY": 9, "title": null, "symbolType": "M-2,0L2,0", "symbolSize": 484, "symbolStrokeWidth": 2.5, "labelFontSize": 18, "labelFont": "DejaVu Sans", "labelColor": "#262626", "fillColor": "white", "strokeColor": "#cccccc", "cornerRadius": 4, "padding": 6, "rowPadding": 11, "symbolOffset": 11, "labelOffset": 26}},
            "order": {"field": "T", "type": "quantitative"}
          }
        },
        {
          "data": {"name": "ref"},
          "mark": {"type": "rule", "color": "#ff0000", "strokeWidth": 3.5, "strokeDash": [11, 5]},
          "encoding": {"y": {"field": "T", "type": "quantitative"}}
        },
        {
          "data": {"values": [{"lab": "d)"}]},
          "mark": {"type": "text", "font": "Lato", "fontWeight": "bold", "fontSize": 34, "align": "left", "baseline": "alphabetic", "color": "black"},
          "encoding": {"text": {"field": "lab"}, "x": {"datum": -0.55}, "y": {"datum": -24.37}}
        }
      ]
    }
  ]
}
